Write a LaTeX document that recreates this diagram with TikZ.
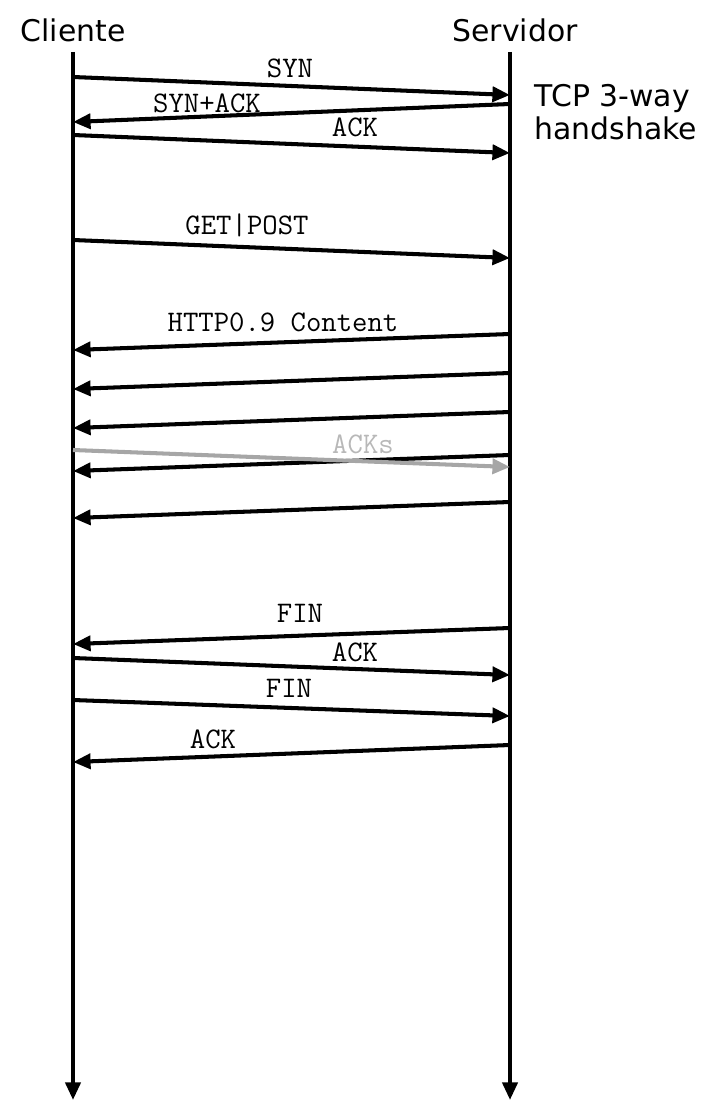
\documentclass[tikz,border=0pt]{standalone}
\usepackage{fontspec}
\setmainfont{DejaVu Sans}
\usetikzlibrary{arrows.meta}

\begin{document}
\begin{tikzpicture}[
  x=0.02cm,y=-0.02cm,
  >={Triangle[length=10pt,width=8.5pt]},
  lifeline/.style={->,line width=2.3pt},
  msg/.style={->,line width=2.3pt},
  ackmsg/.style={msg,draw=black!35,fill=black!35},
  party/.style={font=\fontsize{17}{19}\selectfont,inner sep=0pt},
  msglabel/.style={font=\ttfamily\fontsize{17}{19}\selectfont,inner sep=0pt},
  acklabel/.style={msglabel,text=black!28}
]
\useasboundingbox (0,0) rectangle (704,1101);

% parties and time lines
\node[party] (cliente) at (73,30) {Cliente};
\node[party] (servidor) at (515,30) {Servidor};
\coordinate (cTop) at (73,52);
\coordinate (cEnd) at (73,1100);
\coordinate (sTop) at (510,52);
\coordinate (sEnd) at (510,1100);
\draw[lifeline] (cTop) -- (cEnd);
\draw[lifeline] (sTop) -- (sEnd);
\node[party,align=left] (hs) at (616,112) {TCP 3-way\\handshake};

% 3-way handshake
\coordinate (c1) at (73,77);   \coordinate (s1) at (510,95);
\coordinate (s2) at (510,104); \coordinate (c2) at (73,122);
\coordinate (c3) at (73,135);  \coordinate (s3) at (510,153);
\draw[msg] (c1) -- (s1);
\draw[msg] (s2) -- (c2);
\draw[msg] (c3) -- (s3);
\node[msglabel] (syn) at (290,68) {SYN};
\node[msglabel] (synack) at (207,103) {SYN+ACK};
\node[msglabel] (ack1) at (355,127) {ACK};

% request
\coordinate (c4) at (73,240);  \coordinate (s4) at (510,258);
\draw[msg] (c4) -- (s4);
\node[msglabel] (req) at (247,225) {GET|POST};

% content
\coordinate (s5) at (510,334); \coordinate (c5) at (73,350);
\coordinate (s6) at (510,373); \coordinate (c6) at (73,389);
\coordinate (s7) at (510,412); \coordinate (c7) at (73,428);
\coordinate (s8) at (510,455); \coordinate (c8) at (73,471);
\coordinate (s9) at (510,502); \coordinate (c9) at (73,518);
\draw[msg] (s5) -- (c5);
\draw[msg] (s6) -- (c6);
\draw[msg] (s7) -- (c7);
\draw[msg] (s8) -- (c8);
\draw[msg] (s9) -- (c9);
\node[msglabel] (content) at (283,322) {HTTP0.9 Content};
\coordinate (cAck) at (73,450); \coordinate (sAck) at (510,467);
\draw[ackmsg] (cAck) -- (sAck);
\node[acklabel] (acks) at (363,444) {ACKs};

% connection teardown
\coordinate (s10) at (510,628); \coordinate (c10) at (73,644);
\coordinate (c11) at (73,658);  \coordinate (s11) at (510,675);
\coordinate (c12) at (73,700);  \coordinate (s12) at (510,716);
\coordinate (s13) at (510,745); \coordinate (c13) at (73,762);
\draw[msg] (s10) -- (c10);
\draw[msg] (c11) -- (s11);
\draw[msg] (c12) -- (s12);
\draw[msg] (s13) -- (c13);
\node[msglabel] (fin1) at (300,613) {FIN};
\node[msglabel] (ack2) at (355,652) {ACK};
\node[msglabel] (fin2) at (289,688) {FIN};
\node[msglabel] (ack3) at (213,739) {ACK};
\end{tikzpicture}
\end{document}
